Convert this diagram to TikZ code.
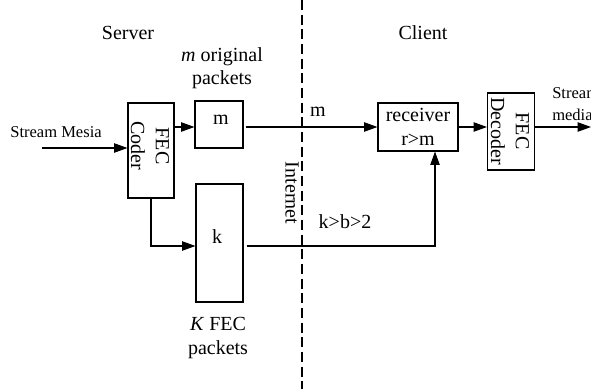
\documentclass[tikz,border=0pt]{standalone}
\usepackage{fontspec}
\setmainfont{Liberation Serif}
\usetikzlibrary{arrows.meta}
\begin{document}
\begin{tikzpicture}[x=0.75pt,y=-0.75pt,
  box/.style={draw,line width=0.8pt,inner sep=0pt,align=center},
  lbl/.style={inner sep=0pt,align=center,font=\fontsize{15}{17.5}\selectfont},
  vtxt/.style={rotate=-90,align=center,inner sep=0pt,font=\fontsize{15}{18.5}\selectfont},
  small/.style={inner sep=0pt,font=\fontsize{12.4}{16.5}\selectfont},
  arr/.style={line width=0.8pt,-{Triangle[length=10pt,width=7pt]}},
  ln/.style={line width=0.8pt}]
\useasboundingbox (0,0) rectangle (591,389);
% boxes
\node[box,minimum width=46*0.75pt,minimum height=95*0.75pt] (coder) at (151,150.5) {};
\node[vtxt] (codertxt) at (150,146) {FEC\\Coder};
\node[box,minimum width=48*0.75pt,minimum height=47*0.75pt] (mbox) at (219,124.5) {};
\node[lbl] (mtxt) at (221,120) {m};
\node[box,minimum width=47*0.75pt,minimum height=118*0.75pt] (kbox) at (219.5,243) {};
\node[lbl] (ktxt) at (217,237) {k};
\node[box,minimum width=80*0.75pt,minimum height=48*0.75pt,font=\fontsize{15}{18}\selectfont] (receiver) at (418,127) {receiver\\r>m};
\node[box,minimum width=47*0.75pt,minimum height=77*0.75pt] (decoder) at (511,131.5) {};
\node[vtxt] (dectxt) at (510,131) {FEC\\Decoder};
% labels
\node[lbl] (server) at (128,33) {Server};
\node[lbl] (client) at (423,33) {Client};
\node[lbl] (morig) at (222,68) {\textit{m} original\\packets};
\node[lbl] (kfec) at (218,338) {\textit{K} FEC\\packets};
\node[small] (smesia) at (56,132) {Stream Mesia};
\node[small,anchor=west,align=left] (smedia) at (552,104) {Stream\\media};
\node[lbl] (kb) at (345,222) {k>b>2};
\node[lbl] (mlab) at (318,112) {m};
\node[lbl,rotate=-90] (inet) at (292,193) {Internet};
% helper coordinates
\coordinate (in) at (42,148);
\coordinate (row) at (0,127);
\coordinate (krow) at (0,246);
\coordinate (rx) at (435,0);
\coordinate (out) at (591,127);
\coordinate (dtop) at (302,0);
\coordinate (dbot) at (302,389);
% connectors
\draw[arr] (in) -- (in -| coder.west);
\draw[arr] (coder.east |- row) -- (mbox.west |- row);
\draw[arr] ([xshift=2*0.75pt]mbox.east |- row) -- (receiver.west);
\draw[arr] (receiver.east) -- (decoder.west |- row);
\draw[arr] (decoder.east |- row) -- (out);
\draw[arr] (coder.south) |- (kbox.west |- krow);
\draw[arr] ([xshift=3*0.75pt]kbox.east |- krow) -| (rx |- receiver.south);
\draw[line width=1.6pt,dash pattern=on 7.5pt off 3.5pt] (dtop) -- (dbot);
\end{tikzpicture}
\end{document}
